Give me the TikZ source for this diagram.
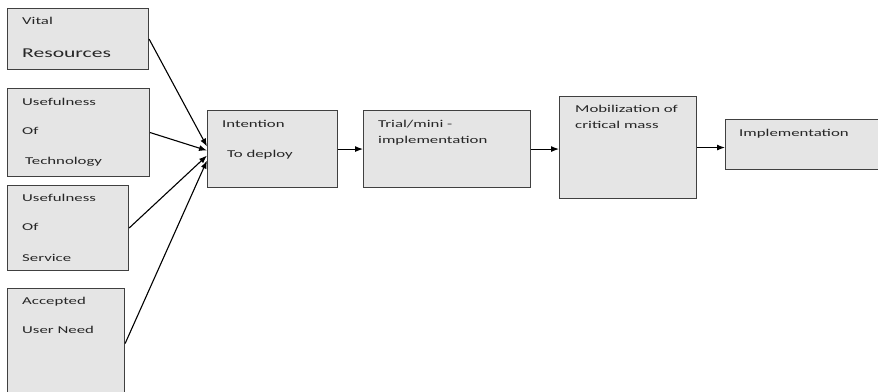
\documentclass[tikz,border=0pt]{standalone}
\usepackage{fontspec}
\setmainfont[FakeStretch=1.6]{Carlito}
\usepackage{tikz}
\usetikzlibrary{positioning,arrows.meta,calc}

\tikzset{
  stagebox/.style={draw=black!75,fill=black!10,line width=1.1pt,anchor=north west,inner sep=0pt},
  lbl/.style={anchor=base west,inner sep=0pt,text=black!85,font=\fontsize{10.5}{12}\selectfont},
  flow/.style={-{Latex[length=8pt,width=6pt]},line width=1.1pt}
}

\begin{document}
\begin{tikzpicture}[x=1pt,y=-1pt]
  % --- frame, 878 x 391, boxes running off the edge are cut ---
  \path[use as bounding box,clip] (0,0) rectangle (878,391);
  % input boxes
  \node[stagebox,minimum width=141pt,minimum height=61pt] (vital) at (7,8) {};
  \node[stagebox,minimum width=142pt,minimum height=88pt] (tech) at (7,88) {};
  \node[stagebox,minimum width=121pt,minimum height=85pt] (serv) at (7,185) {};
  \node[stagebox,minimum width=117pt,minimum height=110pt] (need) at (7,288) {};
  % stages
  \node[stagebox,minimum width=130pt,minimum height=77pt] (intent) at (207,110) {};
  \node[stagebox,minimum width=167pt,minimum height=77pt] (trial) at (363,110) {};
  \node[stagebox,minimum width=137pt,minimum height=102pt] (mob) at (559,96) {};
  \node[stagebox,minimum width=170pt,minimum height=50pt] (impl) at (725,119) {};
  % texts
  \node[lbl] (vital1) at (22,24) {Vital};
  \node[lbl,font=\fontsize{13.5}{16}\selectfont] (vital2) at (22,57) {Resources};
  \node[lbl] (tech1) at (22,105) {Usefulness};
  \node[lbl] (tech2) at (22,134) {Of};
  \node[lbl] (tech3) at (25,164) {Technology};
  \node[lbl] (serv1) at (22,201) {Usefulness};
  \node[lbl] (serv2) at (22,230) {Of};
  \node[lbl] (serv3) at (22,261) {Service};
  \node[lbl] (need1) at (22,304) {Accepted};
  \node[lbl] (need2) at (22,333) {User Need};
  \node[lbl] (intent1) at (222,127) {Intention};
  \node[lbl] (intent2) at (227,157) {To deploy};
  \node[lbl] (trial1) at (378,127) {Trial/mini -};
  \node[lbl] (trial2) at (378,143) {implementation};
  \node[lbl] (mob1) at (575,112) {Mobilization of};
  \node[lbl] (mob2) at (575,128) {critical mass};
  \node[lbl] (impl1) at (739,136) {Implementation};
  % converging inputs
  \foreach \src/\dy in {vital/-2.5,tech/1.5,serv/6.5,need/11.5}
    \draw[flow] (\src.east) -- ($(intent.west)+(0,\dy)$);
  % main chain
  \draw[flow] (intent.east) -- (trial.west);
  \draw[flow] (trial.east) -- (trial.east -| mob.west);
  \draw[flow] (mob.east) -- (mob.east -| impl.west);
\end{tikzpicture}
\end{document}
